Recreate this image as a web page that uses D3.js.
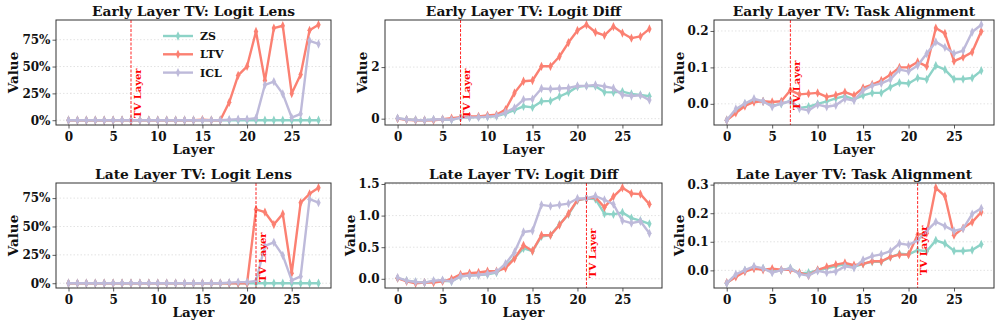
<!DOCTYPE html>
<html>
<head>
<meta charset="utf-8">
<script src="https://cdn.jsdelivr.net/npm/d3@7"></script>
<style>
  body { margin: 0; background: #fff; }
</style>
</head>
<body>
<svg id="chart" width="996" height="328"></svg>
<script>
// layer index (x axis)
const layers = [0,1,2,3,4,5,6,7,8,9,10,11,12,13,14,15,16,17,18,19,20,21,22,23,24,25,26,27,28];
const seriesNames = ["ZS", "LTV", "ICL"];
const xTicks = [0, 5, 10, 15, 20, 25];

// logit lens (fraction)
const lensZS = [0,0,0,0,0,0,0,0,0,0,0,0,0,0,0,0,0,0,0,0,0,0,0,0,0,0,0,0,0];
const lensICL = [0,0,0,0,0,0,0,0,0,0,0,0,0,0,0,0,0,0,0.005,0.01,0.01,0.02,0.33,0.36,0.245,0.025,0.06,0.74,0.71];
const earlyLensLTV = [0,0,0,0,0,0,0,0,0,0,0,0,0,0,0,0.005,0,0,0.167,0.418,0.502,0.827,0.369,0.858,0.88,0.248,0.425,0.837,0.889];
const lateLensLTV = [0,0,0,0,0,0,0,0,0,0,0,0,0,0,0,0,0,0,0,0,0,0.65,0.626,0.517,0.611,0.089,0.709,0.788,0.841];

// logit diff
const diffZS = [0.01,-0.03,-0.05,-0.06,-0.04,-0.03,-0.04,0.04,0.05,0.06,0.07,0.10,0.20,0.33,0.48,0.44,0.67,0.69,0.86,1.02,1.24,1.27,1.26,1.03,1.02,1.05,0.96,0.92,0.87];
const diffICL = [0.02,-0.03,-0.05,-0.06,-0.03,-0.02,-0.04,0.04,0.05,0.06,0.08,0.11,0.24,0.42,0.74,0.76,1.17,1.15,1.17,1.19,1.27,1.27,1.31,1.25,1.18,0.92,0.88,0.91,0.72];
const earlyDiffLTV = [0.0,-0.04,-0.06,-0.06,-0.06,-0.02,0.02,0.06,0.09,0.09,0.13,0.15,0.35,1.0,1.45,1.48,2.03,2.03,2.41,2.95,3.42,3.64,3.35,3.23,3.57,3.32,3.12,3.19,3.48];
const lateDiffLTV = [0.01,-0.04,-0.07,-0.06,-0.06,-0.04,0.0,0.07,0.09,0.10,0.12,0.12,0.17,0.32,0.53,0.44,0.69,0.69,0.85,1.03,1.25,1.27,1.29,1.13,1.30,1.44,1.35,1.34,1.18];

// task alignment
const alignZS = [-0.045,-0.02,0.0,0.01,0.007,-0.005,0.0,0.008,-0.011,-0.008,0.0,0.007,0.015,0.021,0.012,0.023,0.030,0.030,0.046,0.058,0.056,0.071,0.067,0.105,0.094,0.068,0.068,0.071,0.091];
const alignICL = [-0.045,-0.014,0.001,0.014,0.007,-0.008,0.001,0.007,-0.013,-0.018,-0.002,-0.008,-0.004,0.014,0.009,0.037,0.050,0.056,0.067,0.094,0.089,0.105,0.138,0.170,0.155,0.138,0.146,0.197,0.217];
const earlyAlignLTV = [-0.045,-0.025,-0.006,0.005,0.007,0.005,0.007,0.037,0.026,0.028,0.030,0.019,0.024,0.032,0.023,0.044,0.053,0.064,0.080,0.100,0.100,0.115,0.103,0.208,0.193,0.117,0.128,0.142,0.199];
const lateAlignLTV = [-0.043,-0.023,-0.004,0.006,0.002,0.006,0.002,0.002,-0.008,-0.018,0.002,0.012,0.020,0.026,0.018,0.023,0.032,0.032,0.047,0.055,0.055,0.125,0.13,0.289,0.260,0.123,0.148,0.169,0.204];

const tvLayers = [7, 21];
const titles = [
  "Early Layer TV: Logit Lens", "Early Layer TV: Logit Diff", "Early Layer TV: Task Alignment",
  "Late Layer TV: Logit Lens", "Late Layer TV: Logit Diff", "Late Layer TV: Task Alignment"
];
const yTicks = [
  [0, 0.25, 0.5, 0.75], [0, 2], [0, 0.1, 0.2],
  [0, 0.25, 0.5, 0.75], [0, 0.5, 1.0, 1.5], [0, 0.1, 0.2, 0.3]
];
const yFormats = [".0%", "d", ".1f", ".0%", ".1f", ".1f"];

const colors = { ZS: "#8dd3c7", LTV: "#fb8072", ICL: "#bebada" };

const panels = [
  { series: [lensZS, earlyLensLTV, lensICL], tv: tvLayers[0] },
  { series: [diffZS, earlyDiffLTV, diffICL], tv: tvLayers[0] },
  { series: [alignZS, earlyAlignLTV, alignICL], tv: tvLayers[0] },
  { series: [lensZS, lateLensLTV, lensICL], tv: tvLayers[1] },
  { series: [diffZS, lateDiffLTV, diffICL], tv: tvLayers[1] },
  { series: [alignZS, lateAlignLTV, alignICL], tv: tvLayers[1] }
];

// layout
const cols = [{ l: 56, r: 331 }, { l: 385, r: 662 }, { l: 714, r: 994 }];
const rows = [{ t: 20, b: 125 }, { t: 183, b: 288 }];
const tvLabelGap = [7, 7, 15, 6, 10, 13];

const FONT = "'DejaVu Serif', serif";
const font = (sel, size) => sel.style("font-family", FONT).style("font-weight", "bold").style("font-size", size + "px");

const svg = d3.select("#chart");
const diamond = d3.symbol().type(d3.symbolDiamond).size(16);

panels.forEach((p, i) => {
  const c = cols[i % 3], r = rows[Math.floor(i / 3)];
  const g = svg.append("g");

  const x = d3.scaleLinear().domain([-1.4, 29.4]).range([c.l, c.r]);
  const ext = d3.extent(p.series.flat());
  const pad = (ext[1] - ext[0]) * 0.05;
  const y = d3.scaleLinear().domain([ext[0] - pad, ext[1] + pad]).range([r.b, r.t]);

  // grid
  g.append("g")
    .selectAll("line").data(yTicks[i]).join("line")
    .attr("x1", c.l).attr("x2", c.r)
    .attr("y1", d => y(d)).attr("y2", d => y(d))
    .attr("stroke", "#e3e3e3").attr("stroke-dasharray", "1.5,2");

  // axes
  const xAxis = g.append("g").attr("transform", `translate(0,${r.b})`)
    .call(d3.axisBottom(x).tickValues(xTicks).tickSizeOuter(0).tickSize(3.5).tickPadding(3.5));
  const yAxis = g.append("g").attr("transform", `translate(${c.l},0)`)
    .call(d3.axisLeft(y).tickValues(yTicks[i]).tickFormat(d3.format(yFormats[i])).tickSizeOuter(0).tickSize(3.5).tickPadding(2));
  [xAxis, yAxis].forEach(a => {
    a.select(".domain").remove();
    a.selectAll("line").attr("stroke", "#333").attr("stroke-width", 0.8);
    font(a.selectAll("text"), 12).attr("fill", "#111");
  });
  const tickW = d3.max(yAxis.selectAll("text").nodes(), n => n.getComputedTextLength());

  // series
  const line = d3.line().x((d, j) => x(layers[j])).y(d => y(d));
  p.series.forEach((vals, k) => {
    const name = seriesNames[k];
    g.append("path").datum(vals).attr("d", line)
      .attr("fill", "none").attr("stroke", colors[name])
      .attr("stroke-width", 2.4).attr("stroke-linejoin", "round");
    g.selectAll(null).data(vals).join("path")
      .attr("d", diamond)
      .attr("transform", (d, j) => `translate(${x(layers[j])},${y(d)}) scale(1,1.25)`)
      .attr("fill", colors[name]);
  });

  // tv layer marker
  g.append("line")
    .attr("x1", x(p.tv)).attr("x2", x(p.tv)).attr("y1", r.t).attr("y2", r.b)
    .attr("stroke", "#ff0000").attr("stroke-width", 1).attr("stroke-dasharray", "3,1.5").attr("opacity", 0.85);
  font(g.append("text"), 10)
    .attr("transform", `translate(${x(p.tv) + 9.5},${r.b - tvLabelGap[i]}) rotate(-90)`)
    .attr("fill", "#ff0000").text("TV Layer");

  // frame
  g.append("rect").attr("x", c.l).attr("y", r.t).attr("width", c.r - c.l).attr("height", r.b - r.t)
    .attr("fill", "none").attr("stroke", "#333").attr("stroke-width", 1);

  // title and axis labels
  font(g.append("text"), 13.8).attr("x", (c.l + c.r) / 2).attr("y", r.t - 4)
    .attr("text-anchor", "middle").attr("fill", "#111").text(titles[i]);
  font(g.append("text"), 13.5).attr("x", (c.l + c.r) / 2).attr("y", r.b + 29)
    .attr("text-anchor", "middle").attr("fill", "#111").text("Layer");
  font(g.append("text"), 13.5)
    .attr("transform", `translate(${c.l - 9.5 - tickW},${(r.t + r.b) / 2}) rotate(-90)`)
    .attr("text-anchor", "middle").attr("fill", "#111").text("Value");
});

// legend (first panel)
const legend = svg.append("g").selectAll("g").data(seriesNames).join("g")
  .attr("transform", (d, i) => `translate(163,${36 + i * 18.3})`);
legend.append("line").attr("x1", 0).attr("x2", 30)
  .attr("stroke", d => colors[d]).attr("stroke-width", 2.4);
legend.append("path").attr("d", diamond).attr("transform", "translate(15,0) scale(1,1.25)")
  .attr("fill", d => colors[d]);
font(legend.append("text"), 11).attr("x", 37).attr("y", 4).attr("fill", "#111").text(d => d);
</script>
</body>
</html>
